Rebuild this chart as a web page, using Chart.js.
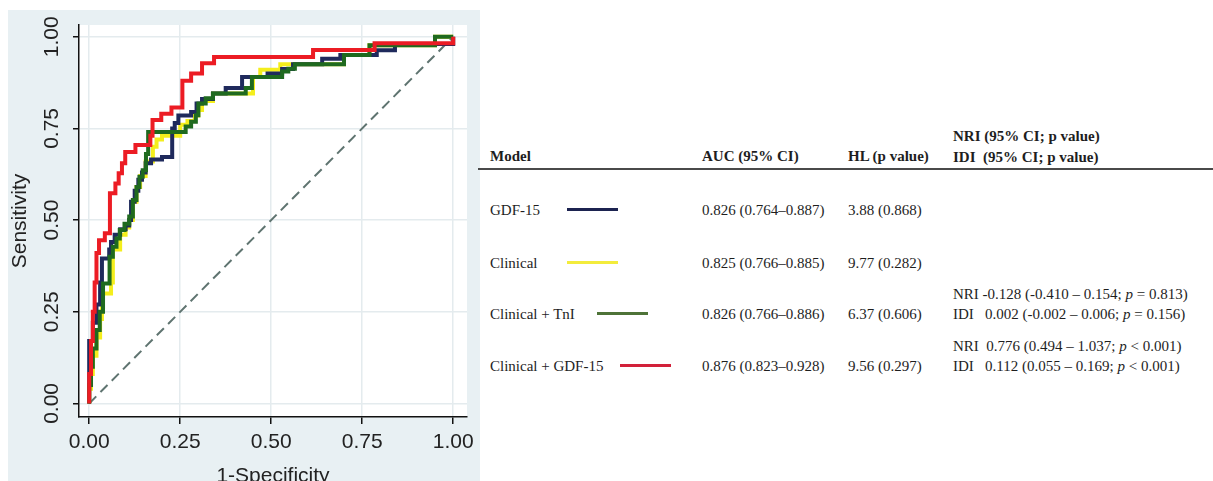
<!DOCTYPE html>
<html>
<head>
<meta charset="utf-8">
<script src="https://cdn.jsdelivr.net/npm/chart.js@4.4.1/dist/chart.umd.min.js"></script>
<style>
  body { margin: 0; background: #fff; width: 1213px; height: 481px; overflow: hidden; position: relative; }
  #plot-box { position: absolute; left: 8px; top: 10px; width: 472px; height: 471px; background: #e8f0f3; }
  .cell { position: absolute; font-family: "Liberation Serif", serif; font-size: 15px; line-height: 18px; color: #1e1e1e; white-space: pre; }
  .bold { font-weight: bold; }
  .swatch { position: absolute; height: 3px; }
  .rule { position: absolute; left: 478px; width: 735px; top: 168px; height: 2px; background: #4a4a4a; }
</style>
</head>
<body>
<div id="plot-box"><canvas id="rocChart" width="472" height="471"></canvas></div>
<div id="table"></div>

<script>
// --- Data ---
const tickVals = [0, 0.25, 0.5, 0.75, 1];

// GDF-15
const gdfX = [0, 0, 0.01, 0.02, 0.03, 0.035, 0.055, 0.06, 0.07, 0.085, 0.1, 0.11, 0.115, 0.125, 0.135, 0.145, 0.155, 0.17, 0.2, 0.228, 0.235, 0.245, 0.28, 0.295, 0.31, 0.34, 0.375, 0.42, 0.49, 0.53, 0.56, 0.64, 0.69, 0.79, 0.84, 1.0];
const gdfY = [0, 0.17, 0.22, 0.27, 0.33, 0.395, 0.42, 0.44, 0.46, 0.475, 0.485, 0.5, 0.55, 0.58, 0.61, 0.63, 0.655, 0.665, 0.672, 0.75, 0.765, 0.785, 0.795, 0.818, 0.83, 0.845, 0.86, 0.89, 0.9, 0.912, 0.925, 0.94, 0.95, 0.963, 0.98, 1.0];

// Clinical
const clinX = [0, 0, 0.005, 0.01, 0.02, 0.03, 0.035, 0.06, 0.065, 0.085, 0.1, 0.11, 0.12, 0.13, 0.14, 0.155, 0.175, 0.185, 0.2, 0.25, 0.27, 0.29, 0.3, 0.31, 0.34, 0.45, 0.47, 0.525, 0.7, 0.77, 0.95, 1.0];
const clinY = [0, 0.04, 0.08, 0.13, 0.18, 0.23, 0.3, 0.33, 0.42, 0.46, 0.48, 0.5, 0.55, 0.59, 0.62, 0.66, 0.7, 0.72, 0.73, 0.76, 0.77, 0.785, 0.8, 0.825, 0.845, 0.89, 0.91, 0.925, 0.95, 0.977, 1.0, 1.0];

// Clinical + TnI
const tniX = [0, 0, 0.005, 0.01, 0.02, 0.029, 0.038, 0.056, 0.065, 0.075, 0.084, 0.097, 0.11, 0.12, 0.13, 0.138, 0.147, 0.156, 0.162, 0.265, 0.28, 0.293, 0.3, 0.32, 0.34, 0.43, 0.447, 0.53, 0.547, 0.565, 0.7, 0.77, 0.95, 1.0];
const tniY = [0, 0.05, 0.1, 0.15, 0.2, 0.25, 0.327, 0.4, 0.427, 0.45, 0.473, 0.49, 0.51, 0.555, 0.59, 0.618, 0.636, 0.68, 0.74, 0.755, 0.768, 0.786, 0.818, 0.832, 0.845, 0.86, 0.89, 0.905, 0.913, 0.925, 0.95, 0.977, 1.0, 1.0];

// Clinical + GDF-15
const comboX = [0, 0, 0.005, 0.01, 0.015, 0.02, 0.027, 0.043, 0.057, 0.072, 0.081, 0.09, 0.099, 0.127, 0.168, 0.174, 0.198, 0.226, 0.256, 0.28, 0.31, 0.343, 0.615, 0.784, 1.0];
const comboY = [0, 0.08, 0.17, 0.25, 0.33, 0.41, 0.445, 0.464, 0.573, 0.6, 0.628, 0.655, 0.686, 0.705, 0.73, 0.773, 0.79, 0.807, 0.88, 0.9, 0.928, 0.945, 0.964, 0.982, 1.0];

// reference line
const diagX = [0, 1];
const diagY = [0, 1];

// table
const models = ['GDF-15', 'Clinical', 'Clinical + TnI', 'Clinical + GDF-15'];
const aucText = ['0.826 (0.764\u20130.887)', '0.825 (0.766\u20130.885)', '0.826 (0.766\u20130.886)', '0.876 (0.823\u20130.928)'];
const hlText = ['3.88 (0.868)', '9.77 (0.282)', '6.37 (0.606)', '9.56 (0.297)'];
const nriText = ['', '', 'NRI -0.128 (-0.410 \u2013 0.154; <i>p</i> = 0.813)', 'NRI  0.776 (0.494 \u2013 1.037; <i>p</i> &lt; 0.001)'];
const idiText = ['', '', 'IDI   0.002 (-0.002 \u2013 0.006; <i>p</i> = 0.156)', 'IDI   0.112 (0.055 \u2013 0.169; <i>p</i> &lt; 0.001)'];
const legendColors = ['#1c2350', '#f3ec3c', '#4e7338', '#d2213a'];

// --- Helpers ---
function toPoints(xs, ys) {
  return xs.map((x, i) => ({ x: x, y: ys[i] }));
}

function rocLine(label, xs, ys, color) {
  return {
    label: label,
    data: toPoints(xs, ys),
    borderColor: color,
    borderWidth: 4,
    stepped: 'before',
    pointRadius: 0,
    fill: false
  };
}

const whitePlot = {
  id: 'whitePlot',
  beforeDraw(chart) {
    const a = chart.chartArea;
    const ctx = chart.ctx;
    ctx.save();
    ctx.fillStyle = '#ffffff';
    ctx.fillRect(a.left, a.top, a.right - a.left, a.bottom - a.top);
    ctx.restore();
  }
};

// --- Chart ---
function renderRoc() {
  const ctx = document.getElementById('rocChart').getContext('2d');
  const axisFont = { family: 'Liberation Sans', size: 21 };

  new Chart(ctx, {
    type: 'line',
    data: {
      datasets: [
        rocLine('Clinical + GDF-15', comboX, comboY, '#ec1c24'),
        rocLine('Clinical + TnI', tniX, tniY, '#1f6a1f'),
        rocLine('GDF-15', gdfX, gdfY, '#1f2a5c'),
        rocLine('Clinical', clinX, clinY, '#f4ee1c'),
        {
          label: 'Reference',
          data: toPoints(diagX, diagY),
          borderColor: '#5f7470',
          borderWidth: 2,
          borderDash: [10, 6],
          pointRadius: 0,
          fill: false
        }
      ]
    },
    options: {
      responsive: false,
      animation: false,
      layout: { padding: { left: 0, right: 10, top: 15, bottom: 0 } },
      plugins: { legend: { display: false }, tooltip: { enabled: false } },
      scales: {
        x: {
          type: 'linear',
          min: -0.028,
          max: 1.038,
          afterBuildTicks: s => { s.ticks = tickVals.map(v => ({ value: v })); },
          afterFit: s => { s.height = 64; },
          border: { display: true, color: '#111', width: 1.5 },
          grid: { color: '#e4ebee', lineWidth: 1.5, tickColor: '#111', tickWidth: 1.5, tickLength: 7 },
          ticks: { font: axisFont, color: '#222', padding: 6, maxRotation: 0, callback: v => v.toFixed(2) },
          title: { display: true, text: '1-Specificity', font: axisFont, color: '#222', padding: { top: 0, bottom: -8 } }
        },
        y: {
          type: 'linear',
          min: -0.037,
          max: 1.032,
          afterBuildTicks: s => { s.ticks = tickVals.map(v => ({ value: v })); },
          afterFit: s => { s.width = 71; },
          border: { display: true, color: '#111', width: 1.5 },
          grid: { color: '#e4ebee', lineWidth: 1.5, tickColor: '#111', tickWidth: 1.5, tickLength: 6 },
          ticks: { font: axisFont, color: '#222', padding: 0, minRotation: 90, maxRotation: 90, crossAlign: 'center', callback: v => v.toFixed(2) },
          title: { display: true, text: 'Sensitivity', font: axisFont, color: '#222', padding: 0 }
        }
      }
    },
    plugins: [whitePlot]
  });
}

// --- Table ---
function placeText(html, x, yMid, bold) {
  const div = document.createElement('div');
  div.className = bold ? 'cell bold' : 'cell';
  div.style.left = x + 'px';
  div.style.top = (yMid - 9) + 'px';
  div.innerHTML = html;
  document.getElementById('table').appendChild(div);
}

function placeSwatch(x, width, yMid, color) {
  const div = document.createElement('div');
  div.className = 'swatch';
  div.style.left = x + 'px';
  div.style.width = width + 'px';
  div.style.top = (yMid - 1.5) + 'px';
  div.style.background = color;
  document.getElementById('table').appendChild(div);
}

function renderTable() {
  placeText('Model', 490, 156, true);
  placeText('AUC (95% CI)', 702, 156, true);
  placeText('HL (p value)', 848, 156, true);
  placeText('NRI (95% CI; p value)', 953, 136, true);
  placeText('IDI  (95% CI; p value)', 953, 157, true);

  const rule = document.createElement('div');
  rule.className = 'rule';
  document.getElementById('table').appendChild(rule);

  const rowY = [210, 263, 314, 366];
  const swatchX = [567, 567, 597, 620];
  models.forEach((m, i) => {
    placeText(m, 490, rowY[i], false);
    placeSwatch(swatchX[i], 51, rowY[i] - 1, legendColors[i]);
    placeText(aucText[i], 702, rowY[i], false);
    placeText(hlText[i], 848, rowY[i], false);
    if (nriText[i]) placeText(nriText[i], 953, rowY[i] - 20, false);
    if (idiText[i]) placeText(idiText[i], 953, rowY[i], false);
  });
}

// --- Init ---
renderRoc();
renderTable();
</script>
</body>
</html>
